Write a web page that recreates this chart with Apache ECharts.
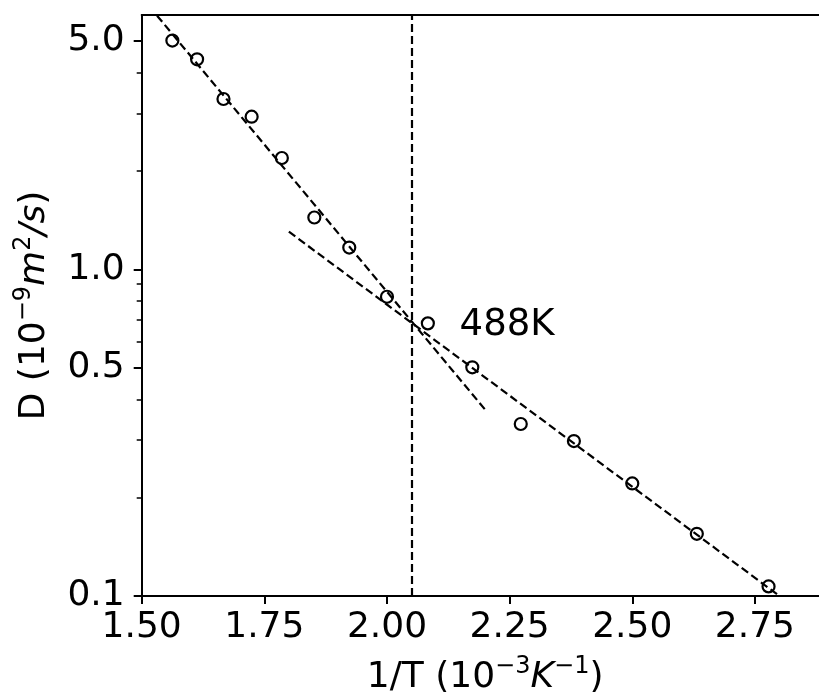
<!DOCTYPE html>
<html><head><meta charset="utf-8">
<script src="https://cdn.jsdelivr.net/npm/echarts@6/dist/echarts.min.js"></script>
<style>html,body{margin:0;padding:0;background:#fff}#c{width:819px;height:698px}</style>
</head><body><div id="c"></div>
<script>
// measured points: 1/T (10^-3 K^-1) and D (10^-9 m^2/s)
const invT = [1.5625, 1.6129, 1.6667, 1.7241, 1.7857, 1.8519, 1.9231, 2.0000, 2.0833, 2.1739, 2.2727, 2.3810, 2.5000, 2.6316, 2.7778];
const diffusion = [5.01, 4.39, 3.32, 2.93, 2.19, 1.44, 1.165, 0.824, 0.683, 0.501, 0.336, 0.298, 0.221, 0.155, 0.107];
// Arrhenius fits (endpoints)
const highFitX = [1.5, 2.2];
const highFitD = [6.8, 0.372];
const lowFitX = [1.8, 2.8];
const lowFitD = [1.303, 0.100];
// transition
const transitionX = 2.047;
const transitionText = '488K';
const transitionTextX = 2.147;
const transitionTextD = 0.675;
// axes
const xRange = [1.5, 2.9];
const yRange = [0.1, 6.0];
const xTickValues = [1.5, 1.75, 2.0, 2.25, 2.5, 2.75];
const xTickLabels = ['1.50', '1.75', '2.00', '2.25', '2.50', '2.75'];
const yTickValues = [0.1, 0.5, 1.0, 5.0];
const yTickLabels = ['0.1', '0.5', '1.0', '5.0'];
const yMinorTicks = [0.2, 0.3, 0.4, 0.6, 0.7, 0.8, 0.9, 2, 3, 4];

const FONT = 'DejaVu Sans';
const FS = 36;
function nearestLabel(vals, labels, v, log) {
  let best = 0, bd = Infinity;
  vals.forEach((t, i) => {
    const d = log ? Math.abs(Math.log(t) - Math.log(v)) : Math.abs(t - v);
    if (d < bd) { bd = d; best = i; }
  });
  return labels[best];
}
const base = { fontFamily: FONT, fontSize: FS, color: '#000', verticalAlign: 'bottom' };
const ital = Object.assign({}, base, { fontStyle: 'italic' });
const sup = { fontFamily: FONT, fontSize: 24, color: '#000', verticalAlign: 'bottom', padding: [0, 0, 17, 0] };
const rich = { n: base, i: ital, s: sup };

const chart = echarts.init(document.getElementById('c'), null, { renderer: 'canvas' });
const dash = [8, 4];
const LW = 2.2;
chart.setOption({
  animation: false,
  backgroundColor: '#fff',
  grid: { left: 141.7, top: 15, width: 686.8, height: 581, containLabel: false, outerBoundsMode: 'none' },
  xAxis: [{
    type: 'value', min: xRange[0], max: xRange[1], position: 'bottom',
    axisLine: { show: true, onZero: false, lineStyle: { color: '#000', width: 2 } },
    axisTick: { show: true, customValues: xTickValues, length: 8, lineStyle: { color: '#000', width: 2 } },
    axisLabel: { show: true, customValues: xTickValues, margin: 14, fontFamily: FONT, fontSize: FS, color: '#000',
      formatter: v => nearestLabel(xTickValues, xTickLabels, v, false) },
    splitLine: { show: false },
    name: '{n|1/T (10}{s|−3}{i|K}{s|−1}{n|)}',
    nameLocation: 'middle', nameGap: 59, nameMoveOverlap: false,
    nameTextStyle: { rich: rich, fontFamily: FONT, fontSize: FS, color: '#000' }
  }, {
    type: 'value', min: xRange[0], max: xRange[1], position: 'top',
    axisLine: { show: true, onZero: false, lineStyle: { color: '#000', width: 2 } },
    axisTick: { show: false }, axisLabel: { show: false }, splitLine: { show: false }
  }],
  yAxis: [{
    type: 'log', logBase: 10, min: yRange[0], max: yRange[1], position: 'left',
    axisLine: { show: true, onZero: false, lineStyle: { color: '#000', width: 2 } },
    axisTick: { show: true, customValues: yTickValues, length: 8, lineStyle: { color: '#000', width: 2 } },
    axisLabel: { show: true, customValues: yTickValues, margin: 17, fontFamily: FONT, fontSize: FS, color: '#000',
      formatter: v => nearestLabel(yTickValues, yTickLabels, v, true) },
    splitLine: { show: false }, minorTick: { show: false },
    name: '{n|D (10}{s|−9}{i|m}{s|2}{i|/s}{n|)}',
    nameLocation: 'middle', nameGap: 89, nameRotate: 90, nameMoveOverlap: false,
    nameTextStyle: { rich: rich, fontFamily: FONT, fontSize: FS, color: '#000' }
  }, {
    type: 'log', logBase: 10, min: yRange[0], max: yRange[1], position: 'left',
    axisLine: { show: false },
    axisTick: { show: true, customValues: yMinorTicks, length: 5, lineStyle: { color: '#000', width: 1.5 } },
    axisLabel: { show: false }, splitLine: { show: false }
  }],
  series: [
    {
      type: 'line', name: 'high', xAxisIndex: 0, yAxisIndex: 0, clip: true,
      data: highFitX.map((x, i) => [x, highFitD[i]]), symbol: 'none',
      lineStyle: { color: '#000', width: LW, type: dash }, z: 2,
      markLine: {
        silent: true, symbol: 'none', label: { show: false },
        lineStyle: { color: '#000', width: LW, type: dash },
        data: [{ xAxis: transitionX }]
      }
    },
    {
      type: 'line', name: 'low', xAxisIndex: 0, yAxisIndex: 0, clip: true,
      data: lowFitX.map((x, i) => [x, lowFitD[i]]), symbol: 'none',
      lineStyle: { color: '#000', width: LW, type: dash }, z: 2
    },
    {
      type: 'scatter', name: 'D', xAxisIndex: 0, yAxisIndex: 0,
      data: invT.map((x, i) => [x, diffusion[i]]),
      symbol: 'circle', symbolSize: 12,
      itemStyle: { color: 'rgba(0,0,0,0)', borderColor: '#000', borderWidth: LW, opacity: 1 }, z: 5
    },
    {
      type: 'scatter', name: 'label', xAxisIndex: 0, yAxisIndex: 0,
      data: [[transitionTextX, transitionTextD]], symbol: 'circle', symbolSize: 1,
      itemStyle: { color: 'rgba(0,0,0,0)', opacity: 1 },
      label: { show: true, position: 'right', distance: 0, formatter: transitionText,
        fontFamily: FONT, fontSize: 37, color: '#000' }, z: 6
    }
  ]
});
</script></body></html>
